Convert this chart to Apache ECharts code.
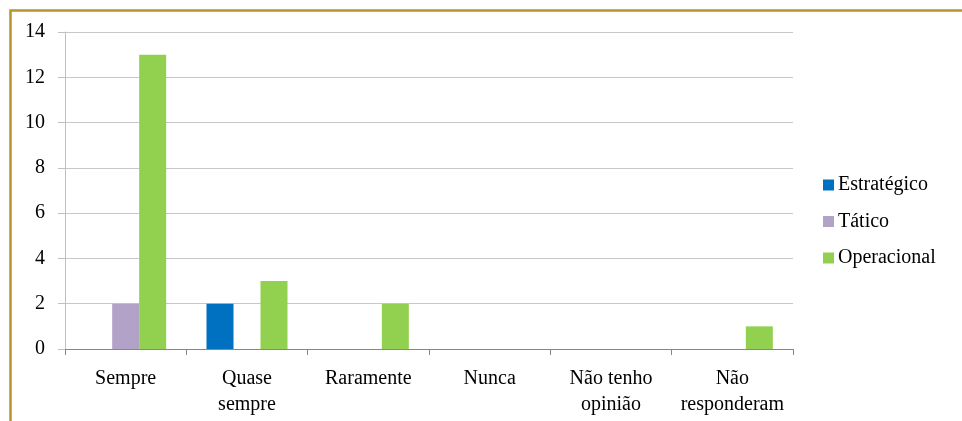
<!DOCTYPE html>
<html>
<head>
<meta charset="utf-8">
<script src="https://cdn.jsdelivr.net/npm/echarts@6/dist/echarts.min.js"></script>
<style>
  html, body { margin: 0; padding: 0; background: #fff; }
  #chart { width: 962px; height: 421px; }
</style>
</head>
<body>
<div id="chart"></div>
<script>
const categories = ['Sempre', 'Quase\nsempre', 'Raramente', 'Nunca', 'Não tenho\nopinião', 'Não\nresponderam'];
const seriesNames = ['Estratégico', 'Tático', 'Operacional'];
const estrategico = [0, 2, 0, 0, 0, 0];
const tatico = [2, 0, 0, 0, 0, 0];
const operacional = [13, 3, 2, 0, 0, 1];
const yTicks = { min: 0, max: 14, interval: 2 };

const colors = ['#0070c0', '#b3a2c7', '#92d050'];
const font = 'Liberation Serif';

const chart = echarts.init(document.getElementById('chart'));
chart.setOption({
  animation: false,
  color: colors,
  textStyle: { fontFamily: font },
  graphic: [{
    type: 'rect',
    shape: { x: 10.5, y: 10.5, width: 1200, height: 1200 },
    style: { fill: 'none', stroke: '#b8952b', lineWidth: 2.5 },
    silent: true,
    z: 100
  }],
  grid: { left: 65, right: 169, top: 32, bottom: 72 },
  legend: {
    orient: 'vertical',
    left: 818,
    top: 170,
    itemWidth: 11,
    itemHeight: 11,
    itemGap: 16.5,
    icon: 'rect',
    textStyle: { fontFamily: font, fontSize: 20, lineHeight: 20, color: '#000', padding: [0, 0, 0, -1] },
    data: seriesNames
  },
  xAxis: {
    type: 'category',
    data: categories,
    axisLine: { lineStyle: { color: '#868686', width: 1 } },
    axisTick: { show: true, length: 6, lineStyle: { color: '#868686' } },
    axisLabel: { fontFamily: font, fontSize: 20, color: '#000', margin: 17, lineHeight: 26, interval: 0 },
    splitLine: { show: false }
  },
  yAxis: {
    type: 'value',
    min: yTicks.min,
    max: yTicks.max,
    interval: yTicks.interval,
    axisLine: { show: true, lineStyle: { color: '#bfbfbf' } },
    axisTick: { show: true, length: 7, lineStyle: { color: '#bfbfbf' } },
    axisLabel: { fontFamily: font, fontSize: 20, color: '#000', margin: 20 },
    splitLine: { lineStyle: { color: '#c8c8c8' } }
  },
  series: [
    { name: seriesNames[0], type: 'bar', data: estrategico, barWidth: 27, barGap: '0%' },
    { name: seriesNames[1], type: 'bar', data: tatico, barWidth: 27, barGap: '0%' },
    { name: seriesNames[2], type: 'bar', data: operacional, barWidth: 27, barGap: '0%' }
  ]
});
</script>
</body>
</html>
